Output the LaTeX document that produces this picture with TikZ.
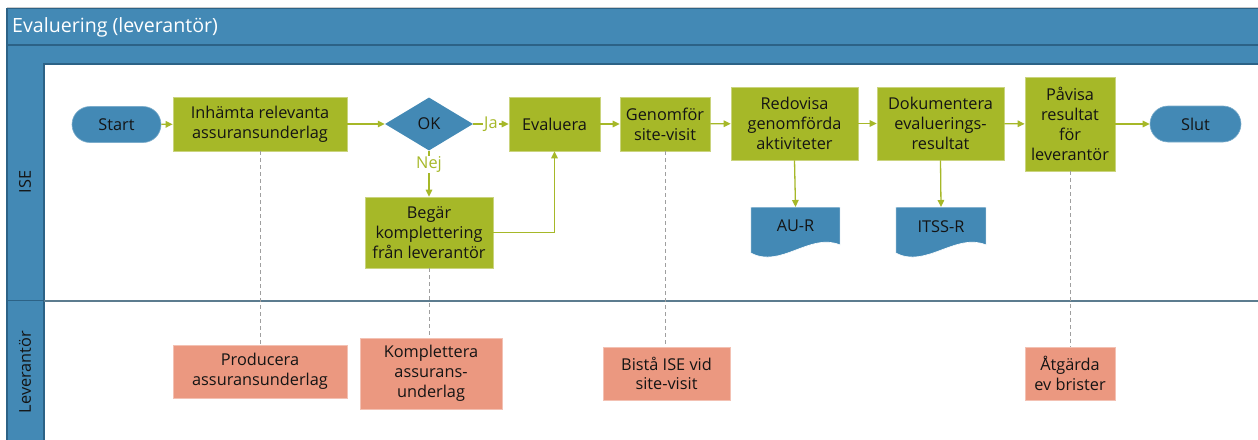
\documentclass[tikz,border=0pt]{standalone}
\usepackage{fontspec}
\setmainfont{Open Sans}
\usetikzlibrary{arrows.meta,shapes.geometric,calc}
\definecolor{laneblue}{HTML}{4389B5}
\definecolor{framedark}{HTML}{2C6286}
\definecolor{sepgray}{HTML}{5C7C8F}
\definecolor{actgreen}{HTML}{A6B828}
\definecolor{supsalmon}{HTML}{EB9880}
\definecolor{txt}{HTML}{141414}
\tikzset{
  every node/.style={font=\fontsize{16.3}{19.8}\selectfont, text=txt, align=center, inner sep=0pt},
  greenbox/.style={fill=actgreen, draw=actgreen!60!white, line width=0.6pt},
  salmonbox/.style={fill=supsalmon, draw=supsalmon!60!white, line width=0.6pt},
  terminal/.style={fill=laneblue, draw=laneblue!70!white, line width=0.6pt, minimum height=36, rounded corners=18pt},
  decision/.style={diamond, fill=laneblue, minimum width=88, minimum height=53},
  docbody/.style={fill=laneblue, draw=white, line width=0.6pt},
  flow/.style={draw=actgreen, line width=1.3pt, -{Triangle[length=7pt,width=6.5pt]}},
  support/.style={draw=gray!75, line width=1pt, dash pattern=on 4pt off 3pt},
  flowlabel/.style={text=actgreen, fill=white, inner sep=1pt},
}
\begin{document}
\begin{tikzpicture}[x=1pt,y=-1pt]
\useasboundingbox (0,0) rectangle (1258,439);
\fill[white] (0,0) rectangle (1258,439);

% pool frame: title bar, sub strip and lane headers
\draw[gray!40, line width=1pt] (7,7.5) -- (1262,7.5);
\fill[laneblue] (7,8) rectangle (1262,64);
\fill[laneblue] (7,64) rectangle (44,445);
\draw[framedark, line width=1.2pt] (7,445) -- (7,8.5) -- (1262,8.5);
\draw[framedark, line width=1.2pt] (7,45) -- (1262,45);
\draw[framedark, line width=1.2pt] (44,445) -- (44,64) -- (1262,64);
\draw[framedark, line width=1.2pt] (7,300.5) -- (44,300.5);
\draw[sepgray, line width=2.4pt] (44,301) -- (1262,301);
\node[anchor=west, text=white, font=\fontsize{19.6}{24}\selectfont] (pooltitle) at (12,27) {Evaluering (leverantör)};
\node[rotate=90] (laneise) at (25,182) {ISE};
\node[rotate=90] (lanelev) at (25,372) {Leverantör};

% ISE lane
\node[terminal, minimum width=89] (start) at (116.5,124.5) {Start};
\node[greenbox, minimum width=174, minimum height=54] (fetch) at (260,124) {Inhämta relevanta\\assuransunderlag};
\node[decision] (ok) at (429,124) {OK};
\node[greenbox, minimum width=91, minimum height=54] (evaluate) at (554.5,124) {Evaluera};
\node[greenbox, minimum width=128, minimum height=71] (request) at (429,232.5) {Begär\\komplettering\\från leverantör};
\node[greenbox, minimum width=90, minimum height=54] (visit) at (665,124) {Genomför\\site-visit};
\node[greenbox, minimum width=127, minimum height=73] (report) at (794.5,123.5) {Redovisa\\genomförda\\aktiviteter};
\node[greenbox, minimum width=127, minimum height=73] (document) at (940.5,123.5) {Dokumentera\\evaluerings-\\resultat};
\node[greenbox, minimum width=90, minimum height=94] (show) at (1070,124) {Påvisa\\resultat\\för\\leverantör};
\node[terminal, minimum width=91] (finish) at (1195.5,124) {Slut};

% documents
\node[minimum width=89, minimum height=38, anchor=north] (aur) at (795.5,207) {};
\draw[docbody] (aur.north west) -- (aur.north east) -- ++(0,38)
  .. controls +(-30,-13) and +(30,16) .. ($(aur.north west)+(0,46)$) -- cycle;
\node at (aur.center) {AU-R};
\node[minimum width=90, minimum height=38, anchor=north] (itss) at (941,207) {};
\draw[docbody] (itss.north west) -- (itss.north east) -- ++(0,38)
  .. controls +(-30,-13) and +(30,16) .. ($(itss.north west)+(0,46)$) -- cycle;
\node at (itss.center) {ITSS-R};

% Leverantör lane
\node[salmonbox, minimum width=174, minimum height=53] (produce) at (260,371.5) {Producera\\assuransunderlag};
\node[salmonbox, minimum width=142, minimum height=71] (complete) at (431,373.5) {Komplettera\\assurans-\\underlag};
\node[salmonbox, minimum width=127, minimum height=53] (assist) at (666.5,373.5) {Bistå ISE vid\\site-visit};
\node[salmonbox, minimum width=90, minimum height=53] (fix) at (1070,373.5) {Åtgärda\\ev brister};

% sequence flow
\draw[flow] (start) -- (fetch);
\draw[flow] (fetch) -- (ok);
\draw[flow] (ok) -- node[flowlabel] {Ja} (evaluate);
\draw[flow] (ok) -- node[flowlabel, pos=0.3] {Nej} (request);
\draw[flow] (request.east) -| (evaluate.south);
\draw[flow] (evaluate) -- (visit);
\draw[flow] (visit) -- (report);
\draw[flow] (report) -- (document);
\draw[flow] (document) -- (show);
\draw[flow] (show) -- (finish);
\draw[flow] (report.south) -- (aur.north);
\draw[flow] (document.south) -- (itss.north);

% links to supplier tasks
\draw[support] (fetch.south) -- (produce.north);
\draw[support] (request.south) -- (request.south |- complete.north);
\draw[support] (visit.south) -- (visit.south |- assist.north);
\draw[support] (show.south) -- (fix.north);
\end{tikzpicture}
\end{document}
